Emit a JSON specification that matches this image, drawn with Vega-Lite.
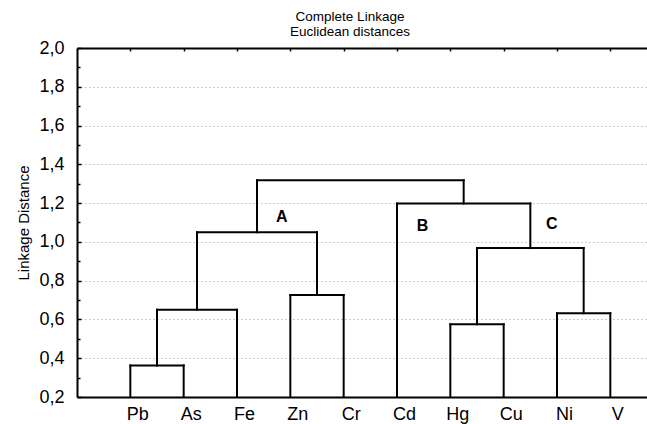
{
  "$schema": "https://vega.github.io/schema/vega-lite/v6.json",
  "width": 570,
  "height": 349,
  "autosize": {"type": "none"},
  "padding": {"left": 77, "top": 48, "right": 0, "bottom": 27},
  "background": "white",
  "title": {
    "text": ["Complete Linkage", "Euclidean distances"],
    "font": "Liberation Sans",
    "fontSize": 13.5,
    "fontWeight": "normal",
    "lineHeight": 15,
    "color": "black",
    "anchor": "middle",
    "dx": -12,
    "offset": 1
  },
  "config": {
    "view": {"stroke": null},
    "axis": {
      "domainColor": "black",
      "domainWidth": 2,
      "tickColor": "black",
      "tickWidth": 1.5,
      "labelColor": "black",
      "titleColor": "black",
      "labelFont": "Liberation Sans",
      "titleFont": "Liberation Sans",
      "labelOverlap": false
    }
  },
  "datasets": {
    "links": [
      {"node": "Pb+As", "xl": 1, "xr": 2, "hl": 0.2, "hr": 0.2, "h": 0.363},
      {"node": "Pb+As+Fe", "xl": 1.5, "xr": 3, "hl": 0.363, "hr": 0.2, "h": 0.65},
      {"node": "Zn+Cr", "xl": 4, "xr": 5, "hl": 0.2, "hr": 0.2, "h": 0.726},
      {"node": "A", "xl": 2.25, "xr": 4.5, "hl": 0.65, "hr": 0.726, "h": 1.05},
      {"node": "Hg+Cu", "xl": 7, "xr": 8, "hl": 0.2, "hr": 0.2, "h": 0.575},
      {"node": "Ni+V", "xl": 9, "xr": 10, "hl": 0.2, "hr": 0.2, "h": 0.632},
      {"node": "C", "xl": 7.5, "xr": 9.5, "hl": 0.575, "hr": 0.632, "h": 0.968},
      {"node": "B", "xl": 6, "xr": 8.5, "hl": 0.2, "hr": 0.968, "h": 1.198},
      {"node": "root", "xl": 3.375, "xr": 7.25, "hl": 1.05, "hr": 1.198, "h": 1.318}
    ],
    "clusters": [
      {"cluster": "A", "pos": 3.84, "dist": 1.129},
      {"cluster": "B", "pos": 6.48, "dist": 1.083},
      {"cluster": "C", "pos": 8.9, "dist": 1.091}
    ]
  },
  "layer": [
    {
      "data": {"name": "links"},
      "mark": {"type": "rule", "color": "black", "strokeWidth": 2, "strokeCap": "square"},
      "encoding": {
        "x": {
          "field": "xl", "type": "quantitative",
          "scale": {"domain": [0, 10.6875], "nice": false, "zero": false},
          "axis": {
            "orient": "bottom",
            "title": null,
            "values": [1, 2, 3, 4, 5, 6, 7, 8, 9, 10],
            "tickCount": 40,
            "labelExpr": "['','Pb','As','Fe','Zn','Cr','Cd','Hg','Cu','Ni','V'][datum.value]",
            "labelFontSize": 18,
            "labelOffset": 7,
            "labelPadding": 8,
            "labelFlush": false,
            "labelOverlap": false,
            "ticks": false,
            "grid": false
          }
        },
        "y": {
          "field": "hl", "type": "quantitative",
          "scale": {"domain": [0.2, 2.0], "nice": false, "zero": false},
          "axis": {
            "orient": "left",
            "title": "Linkage Distance",
            "titleFontSize": 15,
            "titleFontWeight": "normal",
            "titlePadding": 7,
            "values": [0.2, 0.3, 0.4, 0.5, 0.6, 0.7, 0.8, 0.9, 1.0, 1.1, 1.2, 1.3, 1.4, 1.5, 1.6, 1.7, 1.8, 1.9, 2.0],
            "tickCount": 40,
            "labelExpr": "round(datum.value*10) % 2 == 0 ? replace(format(datum.value, '.1f'), '.', ',') : ''",
            "labelFontSize": 18,
            "labelPadding": 17,
            "labelOverlap": false,
            "labelFlush": false,
            "tickSize": {"condition": {"test": "round(datum.value*10) % 2 == 0", "value": -4}, "value": -3},
            "grid": true,
            "gridColor": "#9a9a9a",
            "gridDash": [1, 3],
            "gridWidth": 1,
            "gridOpacity": {"condition": {"test": "round(datum.value*10) % 2 == 0", "value": 1}, "value": 0}
          }
        },
        "y2": {"field": "h"}
      }
    },
    {
      "data": {"name": "links"},
      "mark": {"type": "rule", "color": "black", "strokeWidth": 2, "strokeCap": "square"},
      "encoding": {
        "x": {"field": "xr", "type": "quantitative", "axis": null},
        "y": {"field": "hr", "type": "quantitative", "title": "Linkage Distance"},
        "y2": {"field": "h"}
      }
    },
    {
      "data": {"name": "links"},
      "mark": {"type": "rule", "color": "black", "strokeWidth": 2, "strokeCap": "square"},
      "encoding": {
        "x": {
          "field": "xl", "type": "quantitative",
          "axis": {
            "orient": "top",
            "title": null,
            "values": [1, 2, 3, 4, 5, 6, 7, 8, 9, 10],
            "tickCount": 40,
            "labels": false,
            "ticks": true,
            "tickSize": -3,
            "grid": false
          }
        },
        "x2": {"field": "xr"},
        "y": {"field": "h", "type": "quantitative", "title": "Linkage Distance"}
      }
    },
    {
      "data": {"name": "clusters"},
      "mark": {"type": "text", "font": "Liberation Sans", "fontSize": 16, "fontWeight": "bold", "color": "black", "align": "center", "baseline": "middle"},
      "encoding": {
        "x": {"field": "pos", "type": "quantitative", "axis": null},
        "y": {"field": "dist", "type": "quantitative", "title": "Linkage Distance"},
        "text": {"field": "cluster"}
      }
    }
  ]
}
